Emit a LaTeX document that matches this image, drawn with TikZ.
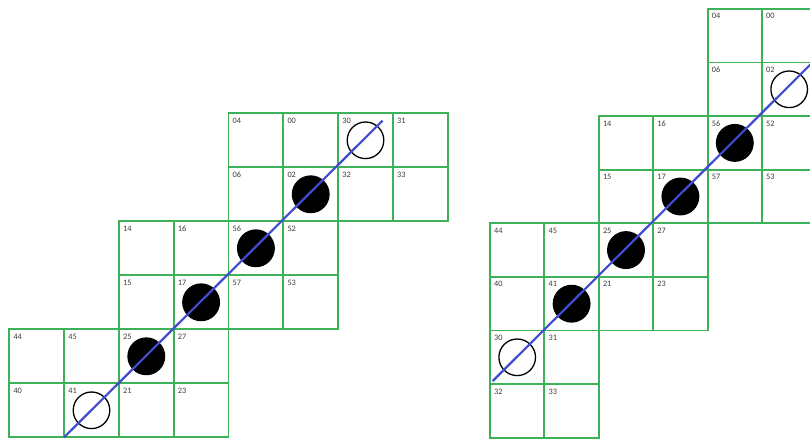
\documentclass[tikz,border=0pt]{standalone}
\usepackage{fontspec}
\setmainfont{Carlito}
\definecolor{gridgreen}{RGB}{62,178,86}
\definecolor{lineblue}{RGB}{66,76,206}
\definecolor{labgray}{RGB}{60,60,60}
\tikzset{
  cellL/.style={draw=gridgreen,line width=1.9pt,rectangle,inner sep=0pt,outer sep=0pt,minimum width=54.8pt,minimum height=54pt,anchor=south west},
  cellR/.style={draw=gridgreen,line width=1.9pt,rectangle,inner sep=0pt,outer sep=0pt,minimum width=54.4pt,minimum height=53.6pt,anchor=south west},
  lab/.style={anchor=north west,inner sep=0pt,text=labgray,font=\fontsize{8.3}{9}\selectfont},
  opencirc/.style={circle,draw=black,line width=1.3pt,fill=none,minimum size=36.6pt,inner sep=0pt},
  fullcirc/.style={circle,draw=black,line width=1.3pt,fill=black,minimum size=36.6pt,inner sep=0pt},
  diag/.style={draw=lineblue,line width=2.2pt}
}
\begin{document}
\begin{tikzpicture}[x=1pt,y=1pt]
\useasboundingbox (0,0) rectangle (810,439);
\clip (0,0) rectangle (810,439);
\fill[white] (0,0) rectangle (810,439);
% left figure
\foreach \c/\r/\t in {0/1/44,1/1/45,2/1/25,3/1/27,0/0/40,1/0/41,2/0/21,3/0/23,
  2/3/14,3/3/16,4/3/56,5/3/52,2/2/15,3/2/17,4/2/57,5/2/53,
  4/5/04,5/5/00,6/5/30,7/5/31,4/4/06,5/4/02,6/4/32,7/4/33}{
  \node[cellL] (L-\t) at ({9.3+\c*54.8},{1.7+\r*54}) {};
  \node[lab] (L-\t-lab) at ([shift={(4,-4.4)}]L-\t.north west) {\t};
}
% right figure
\foreach \c/\r/\t in {0/1/30,1/1/31,0/0/32,1/0/33,
  0/3/44,1/3/45,2/3/25,3/3/27,0/2/40,1/2/41,2/2/21,3/2/23,
  2/5/14,3/5/16,4/5/56,5/5/52,2/4/15,3/4/17,4/4/57,5/4/53,
  4/7/04,5/7/00,4/6/06,5/6/02}{
  \node[cellR] (R-\t) at ({490+\c*54.4},{1.3+\r*53.6}) {};
  \node[lab] (R-\t-lab) at ([shift={(4,-4.4)}]R-\t.north west) {\t};
}
% circles left
\node[opencirc] (L-c41) at (L-41.center) {};
\node[fullcirc] (L-c25) at (L-25.center) {};
\node[fullcirc] (L-c17) at (L-17.center) {};
\node[fullcirc] (L-c56) at (L-56.center) {};
\node[fullcirc] (L-c02) at (L-02.center) {};
\node[opencirc] (L-c30) at (L-30.center) {};
% circles right
\node[opencirc] (R-c30) at (R-30.center) {};
\node[fullcirc] (R-c41) at (R-41.center) {};
\node[fullcirc] (R-c25) at (R-25.center) {};
\node[fullcirc] (R-c17) at (R-17.center) {};
\node[fullcirc] (R-c56) at (R-56.center) {};
\node[opencirc] (R-c02) at (R-02.center) {};
% diagonal lines
\coordinate (L-s) at (L-41.south west);
\coordinate (L-e) at (382.5,318.3);
\draw[diag] (L-s) -- (L-e);
\coordinate (R-s) at (492.7,58);
\coordinate (R-e) at (830,394);
\draw[diag] (R-s) -- (R-e);
\end{tikzpicture}
\end{document}
